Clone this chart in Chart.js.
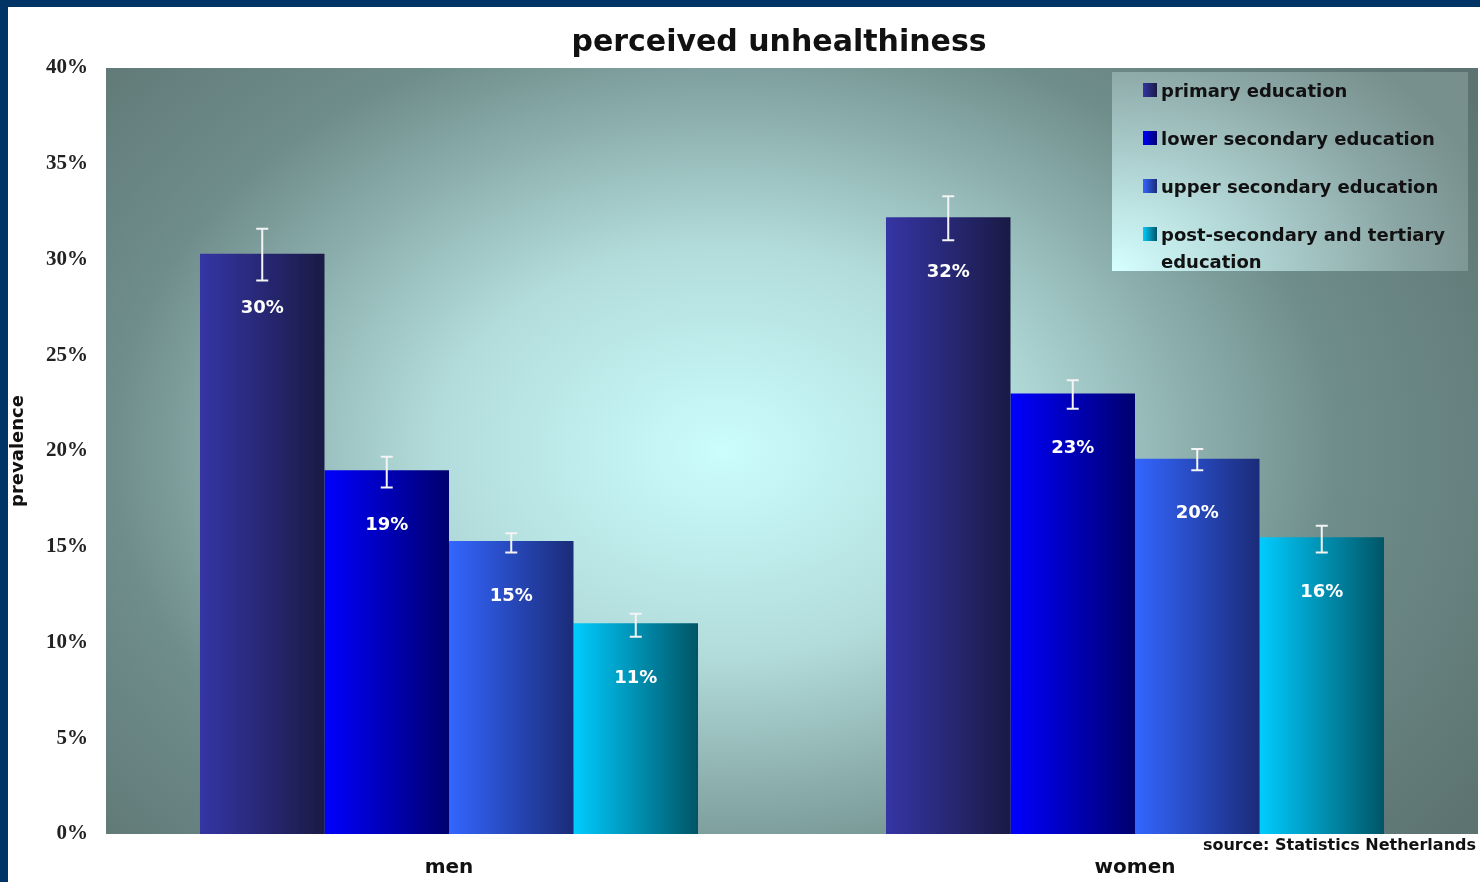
<!DOCTYPE html>
<html>
<head>
<meta charset="utf-8">
<title>perceived unhealthiness</title>
<script src="https://cdn.jsdelivr.net/npm/chart.js@4"></script>
<style>
  html, body { margin: 0; padding: 0; background: #003366; overflow: hidden; }
  #wrap { position: absolute; left: 8px; top: 7px; width: 1472px; height: 875px; background: #fff; }
  #legend {
    position: absolute; left: 1104px; top: 65px; width: 356px; height: 199px;
    background: radial-gradient(ellipse 110% 140% at 0% 100%, #d6ffff 0%, #b2d6d6 35%, #8aa6a4 75%, #778f8d 100%);
    box-sizing: border-box; padding: 5px 0 0 31px;
    font: bold 18px "DejaVu Sans", sans-serif; color: #111;
  }
  #legend .item { display: flex; align-items: flex-start; line-height: 27px; margin-bottom: 21px; }
  #legend .sw { width: 14px; height: 14px; margin: 6px 4px 0 0; flex: none; }
  #legend .txt { width: 300px; }
</style>
</head>
<body>
<div id="wrap">
  <canvas id="grafico"></canvas>
  <div id="legend"></div>
</div>
<script>
const categorias = ["men", "women"];
const series = ["primary education", "lower secondary education", "upper secondary education", "post-secondary and tertiary education"];

// prevalence in %
const primaria = [30.3, 32.2];
const secundariaBaixa = [19.0, 23.0];
const secundariaAlta = [15.3, 19.6];
const terciaria = [11.0, 15.5];

// confidence intervals [low, high]
const primariaIC = [[28.9, 31.6], [31.0, 33.3]];
const secundariaBaixaIC = [[18.1, 19.7], [22.2, 23.7]];
const secundariaAltaIC = [[14.7, 15.7], [19.0, 20.1]];
const terciariaIC = [[10.3, 11.5], [14.7, 16.1]];

const yTicks = [0, 5, 10, 15, 20, 25, 30, 35, 40];

const cores = [
  ["#3535a5", "#1a1a45"],
  ["#0000ff", "#00006e"],
  ["#3366ff", "#1b2b78"],
  ["#00ccff", "#005566"]
];

const valores = [primaria, secundariaBaixa, secundariaAlta, terciaria];
const intervalos = [primariaIC, secundariaBaixaIC, secundariaAltaIC, terciariaIC];
const CAT_PCT = 0.726;

function gradienteBarra(ctx) {
  const chart = ctx.chart;
  const xs = chart.scales && chart.scales.x;
  const par = cores[ctx.datasetIndex];
  if (!xs || ctx.type !== "data" || !chart.chartArea) return par[0];
  const catW = xs.width / categorias.length;
  const grupo = catW * CAT_PCT;
  const barW = grupo / series.length;
  const left = xs.getPixelForValue(ctx.dataIndex) - grupo / 2 + ctx.datasetIndex * barW;
  if (!isFinite(left) || !isFinite(barW) || barW <= 0) return par[0];
  const g = chart.ctx.createLinearGradient(left, 0, left + barW, 0);
  g.addColorStop(0, par[0]);
  g.addColorStop(1, par[1]);
  return g;
}

const fundoPlot = {
  id: "fundoPlot",
  beforeDatasetsDraw(chart) {
    const { ctx, chartArea: a } = chart;
    const cx = a.left + (a.right - a.left) * 0.45;
    const cy = a.top + (a.bottom - a.top) * 0.5;
    const rx = 900, ry = 640;
    ctx.save();
    ctx.beginPath();
    ctx.rect(a.left, a.top, a.right - a.left, a.bottom - a.top);
    ctx.clip();
    ctx.translate(cx, cy);
    ctx.scale(1, ry / rx);
    const g = ctx.createRadialGradient(0, 0, 0, 0, 0, rx);
    g.addColorStop(0, "#cbfdfd");
    g.addColorStop(0.32, "#b2dcdb");
    g.addColorStop(0.68, "#6f8d8b");
    g.addColorStop(1, "#5c7371");
    ctx.fillStyle = g;
    ctx.fillRect(-2000, -3000, 4000, 6000);
    ctx.restore();
  }
};

const extras = {
  id: "extras",
  afterDatasetsDraw(chart) {
    const { ctx } = chart;
    const ys = chart.scales.y;
    ctx.save();
    chart.data.datasets.forEach((ds, di) => {
      const meta = chart.getDatasetMeta(di);
      meta.data.forEach((bar, i) => {
        const [lo, hi] = intervalos[di][i];
        const y1 = ys.getPixelForValue(lo);
        const y2 = ys.getPixelForValue(hi);
        ctx.strokeStyle = "#f4f4f4";
        ctx.lineWidth = 2;
        ctx.beginPath();
        ctx.moveTo(bar.x, y1); ctx.lineTo(bar.x, y2);
        ctx.moveTo(bar.x - 6, y1); ctx.lineTo(bar.x + 6, y1);
        ctx.moveTo(bar.x - 6, y2); ctx.lineTo(bar.x + 6, y2);
        ctx.stroke();

        ctx.fillStyle = "#ffffff";
        ctx.font = "bold 18px 'DejaVu Sans', sans-serif";
        ctx.textAlign = "center";
        ctx.textBaseline = "middle";
        ctx.fillText(Math.round(ds.data[i]) + "%", bar.x, bar.y + 55);
      });
    });

    ctx.fillStyle = "#111";
    ctx.font = "bold 30px 'DejaVu Sans', sans-serif";
    ctx.textAlign = "center";
    ctx.textBaseline = "middle";
    ctx.fillText("perceived unhealthiness", 771, 36);

    ctx.font = "bold 16px 'DejaVu Sans', sans-serif";
    ctx.textAlign = "right";
    ctx.fillText("source: Statistics Netherlands", 1468, 839);
    ctx.restore();
  }
};

new Chart(document.getElementById("grafico").getContext("2d"), {
  type: "bar",
  data: {
    labels: categorias,
    datasets: series.map((nome, i) => ({
      label: nome,
      data: valores[i],
      backgroundColor: gradienteBarra,
      hoverBackgroundColor: gradienteBarra,
      borderWidth: 0,
      categoryPercentage: CAT_PCT,
      barPercentage: 1
    }))
  },
  options: {
    responsive: true,
    maintainAspectRatio: false,
    animation: false,
    events: [],
    layout: { padding: { top: 61, right: 2, left: 0, bottom: 0 } },
    plugins: {
      legend: { display: false },
      tooltip: { enabled: false },
      title: { display: false }
    },
    scales: {
      x: {
        grid: { display: false, drawTicks: false },
        border: { display: false },
        ticks: {
          color: "#111",
          padding: 22,
          font: { family: "'DejaVu Sans', sans-serif", size: 20, weight: "bold" }
        },
        afterFit(scale) { scale.height = 48; }
      },
      y: {
        min: 0,
        max: 40,
        grid: { display: false, drawTicks: false },
        border: { display: false },
        afterBuildTicks(scale) { scale.ticks = yTicks.map(v => ({ value: v })); },
        ticks: {
          color: "#222",
          padding: 18,
          font: { family: "'Liberation Serif', serif", size: 21, weight: "bold" },
          callback: v => v + "%"
        },
        title: {
          display: true,
          text: "prevalence",
          color: "#111",
          padding: 0,
          font: { family: "'DejaVu Sans', sans-serif", size: 18, weight: "bold" }
        },
        afterFit(scale) { scale.width = 98; }
      }
    }
  },
  plugins: [fundoPlot, extras]
});

const legenda = document.getElementById("legend");
series.forEach((nome, i) => {
  const item = document.createElement("div");
  item.className = "item";
  const sw = document.createElement("span");
  sw.className = "sw";
  sw.style.background = `linear-gradient(to right, ${cores[i][0]}, ${cores[i][1]})`;
  const txt = document.createElement("span");
  txt.className = "txt";
  txt.textContent = nome;
  item.appendChild(sw);
  item.appendChild(txt);
  legenda.appendChild(item);
});
</script>
</body>
</html>
